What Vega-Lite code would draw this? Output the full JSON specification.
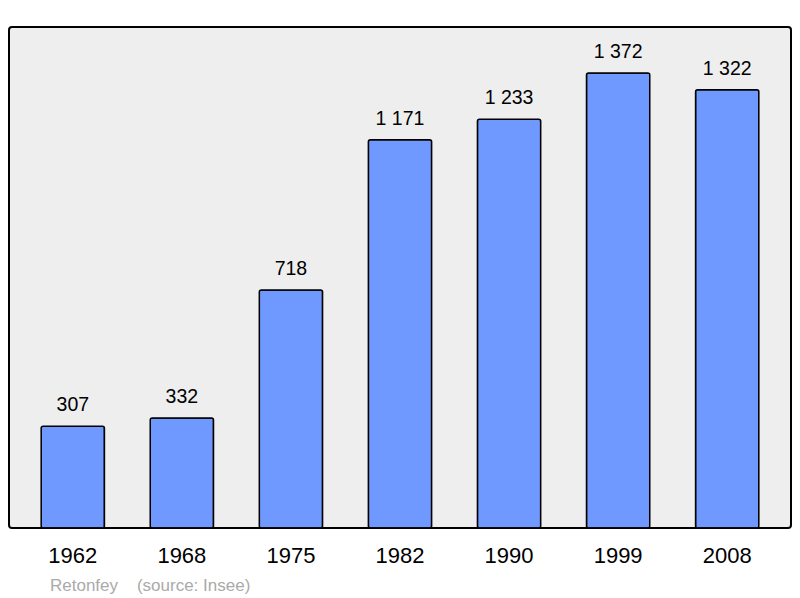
{
  "$schema": "https://vega.github.io/schema/vega-lite/v6.json",
  "width": 782,
  "height": 501,
  "autosize": "none",
  "padding": {"left": 9, "top": 27, "right": 9, "bottom": 70},
  "background": "white",
  "config": {
    "font": "Liberation Sans",
    "locale": {"number": {"decimal": ",", "thousands": " ", "grouping": [3], "currency": ["", " €"]}},
    "view": {"fill": "#eeeeee", "stroke": "#000000", "strokeWidth": 2, "cornerRadius": 3}
  },
  "title": {
    "text": "Retonfey\u00a0\u00a0\u00a0\u00a0(source: Insee)",
    "orient": "bottom",
    "anchor": "start",
    "offset": 12,
    "dx": 41,
    "fontSize": 17,
    "fontWeight": "normal",
    "color": "#aaaaaa",
    "font": "Liberation Sans"
  },
  "data": {
    "values": [
      {"year": "1962", "pop": 307},
      {"year": "1968", "pop": 332},
      {"year": "1975", "pop": 718},
      {"year": "1982", "pop": 1171},
      {"year": "1990", "pop": 1233},
      {"year": "1999", "pop": 1372},
      {"year": "2008", "pop": 1322}
    ]
  },
  "encoding": {
    "x": {
      "field": "year",
      "type": "ordinal",
      "sort": null,
      "scale": {"paddingInner": 0.42, "paddingOuter": 0.295},
      "axis": {"title": null, "domain": false, "ticks": false, "labelAngle": 0, "labelFontSize": 22, "labelColor": "#000000", "labelPadding": 17}
    },
    "y": {
      "field": "pop",
      "type": "quantitative",
      "scale": {"domain": [0, 1511], "nice": false},
      "axis": null
    }
  },
  "layer": [
    {
      "mark": {"type": "bar", "fill": "#7099ff", "stroke": "#000000", "strokeWidth": 1.5, "cornerRadius": 2}
    },
    {
      "mark": {"type": "text", "baseline": "alphabetic", "dy": -15, "fontSize": 19.5, "color": "#000000"},
      "encoding": {"text": {"field": "pop", "type": "quantitative", "format": ",d"}}
    }
  ]
}
